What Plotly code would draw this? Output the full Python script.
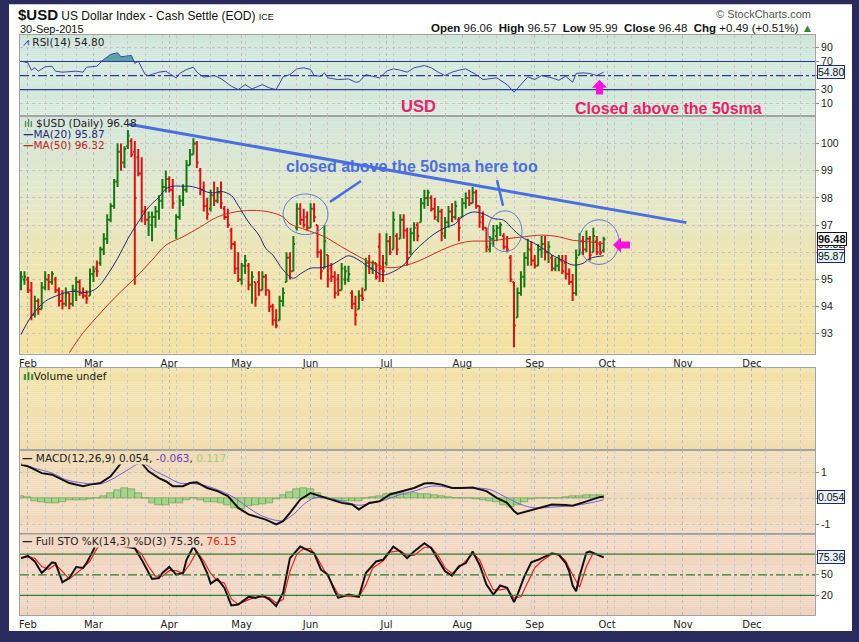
import plotly.graph_objects as go

# ------------------------------------------------------------------ DATA
# trading-day index: 0 = 2-Feb-2015 ... 167 = 30-Sep-2015
day_index = list(range(-2, 168))
opens = [94.8, 95.0, 95.0, 94.6, 93.7, 94.2, 93.9, 94.7, 95.0, 94.9, 95.0, 94.6, 94.2, 94.1, 94.5, 94.1, 94.6, 94.9, 94.5, 94.4,
         94.4, 95.2, 95.4, 95.6, 96.1, 96.5, 97.2, 97.7, 98.6, 99.7, 99.3, 99.9, 100.1, 99.7, 99.5, 98.9, 97.5, 97.2, 97.0, 97.3,
         97.5, 97.9, 98.4, 98.7, 98.3, 96.8, 97.3, 97.9, 98.3, 99.2, 99.6, 100.0, 99.0, 98.3, 97.7, 97.6, 98.1, 97.9, 98.2, 97.6,
         97.3, 96.8, 96.3, 95.4, 95.0, 95.5, 95.5, 94.8, 94.9, 94.9, 94.6, 95.1, 94.6, 94.0, 93.5, 93.5, 94.2, 94.9, 95.8, 95.3,
         96.9, 97.6, 97.2, 97.3, 96.9, 97.6, 97.0, 96.0, 95.4, 95.9, 95.4, 95.1, 95.0, 94.6, 95.0, 95.0, 94.5, 94.1, 93.9, 94.4,
         94.6, 95.6, 95.4, 95.6, 96.2, 95.4, 95.6, 96.4, 96.1, 96.6, 96.5, 97.2, 96.8, 96.0, 96.7, 97.0, 97.1, 97.8, 98.0, 98.0,
         97.6, 97.2, 97.5, 96.6, 97.1, 97.5, 97.3, 97.2, 97.3, 97.8, 98.0, 97.8, 98.2, 97.7, 97.3, 96.9, 96.1, 96.5, 96.6, 96.9,
         96.6, 96.2, 95.8, 94.9, 93.6, 94.5, 95.1, 95.8, 96.1, 95.7, 95.5, 96.1, 96.3, 96.0, 95.8, 95.4, 95.5, 95.7, 95.6, 95.2,
         94.9, 94.5, 95.9, 96.4, 96.1, 96.5, 96.0, 96.4, 96.3, 96.06]
highs = [95.3, 95.3, 95.1, 94.9, 94.4, 94.3, 94.9, 95.3, 95.2, 95.3, 95.1, 94.7, 94.6, 94.7, 94.5, 94.8, 95.1, 95.0, 94.7, 94.6,
         95.4, 95.5, 95.7, 96.2, 96.7, 97.4, 97.8, 98.7, 100.0, 100.0, 99.9, 100.5, 100.2, 100.1, 99.8, 99.5, 97.7, 97.5, 97.5, 97.7,
         98.1, 98.7, 99.0, 98.8, 98.7, 97.4, 98.1, 98.5, 99.4, 99.8, 100.2, 100.1, 99.1, 98.6, 98.0, 98.3, 98.6, 98.4, 98.6, 97.7,
         97.6, 96.9, 96.4, 96.0, 95.6, 95.9, 95.6, 95.3, 94.9, 95.3, 95.3, 95.2, 94.6, 94.1, 93.9, 94.4, 94.7, 96.0, 96.0, 96.6,
         97.8, 97.8, 97.6, 97.5, 97.8, 97.8, 97.0, 96.1, 97.0, 95.9, 95.6, 95.3, 95.2, 95.6, 95.5, 95.5, 94.6, 94.4, 94.6, 94.7,
         95.8, 95.9, 95.7, 95.6, 96.7, 95.9, 96.7, 96.6, 97.5, 96.7, 97.4, 97.4, 96.9, 96.9, 97.1, 97.1, 98.0, 98.3, 98.3, 98.1,
         98.0, 97.7, 97.6, 97.3, 97.7, 97.8, 97.9, 97.3, 98.0, 98.2, 98.3, 98.4, 98.3, 97.7, 97.5, 96.9, 96.6, 97.0, 97.0, 97.1,
         96.7, 96.6, 95.9, 94.9, 94.7, 95.3, 96.0, 96.5, 96.4, 95.9, 96.3, 96.6, 96.6, 96.4, 95.9, 95.8, 95.9, 95.9, 95.9, 95.4,
         95.2, 96.1, 96.7, 96.6, 96.8, 96.6, 96.9, 96.6, 96.4, 96.57]
lows = [94.6, 94.8, 94.5, 93.5, 93.6, 93.7, 93.9, 94.6, 94.6, 94.8, 94.5, 94.0, 93.9, 94.0, 93.9, 94.0, 94.2, 94.4, 94.3, 94.1,
        94.4, 94.9, 95.1, 95.5, 95.9, 96.3, 97.1, 97.6, 98.4, 99.0, 99.1, 99.8, 99.5, 94.8, 98.8, 97.1, 97.0, 96.6, 96.4, 96.9,
        97.2, 97.6, 98.2, 98.2, 97.6, 96.5, 97.2, 97.7, 98.2, 99.2, 99.6, 99.1, 98.1, 97.5, 97.2, 97.5, 97.7, 97.8, 97.6, 97.2,
        96.9, 96.1, 95.2, 94.9, 94.8, 95.2, 94.6, 94.1, 94.0, 94.4, 94.6, 94.4, 93.8, 93.3, 93.2, 93.5, 94.0, 94.9, 95.0, 95.3,
        96.8, 97.0, 96.9, 96.8, 96.9, 97.1, 95.8, 95.0, 95.4, 94.7, 94.9, 94.3, 94.4, 94.6, 94.8, 94.9, 93.9, 93.3, 93.9, 94.2,
        94.6, 95.2, 95.2, 95.0, 94.9, 94.9, 95.5, 95.9, 96.1, 95.9, 96.5, 96.5, 95.5, 95.9, 96.4, 96.4, 97.1, 97.6, 97.7, 97.5,
        97.2, 97.1, 96.4, 96.5, 96.9, 97.1, 97.2, 96.4, 97.3, 97.6, 97.7, 97.8, 97.6, 96.9, 96.8, 96.0, 96.0, 96.2, 96.4, 96.6,
        96.1, 96.0, 94.9, 92.5, 93.6, 94.4, 94.7, 95.5, 95.5, 95.4, 95.5, 95.8, 95.7, 95.6, 95.3, 95.3, 95.3, 95.2, 95.0, 94.8,
        94.2, 94.4, 95.9, 95.9, 96.0, 95.7, 96.0, 95.9, 95.9, 95.99]
closes = [95.1, 95.1, 94.6, 93.7, 94.2, 93.9, 94.7, 95.0, 94.9, 95.2, 94.6, 94.2, 94.1, 94.5, 94.1, 94.6, 94.9, 94.5, 94.4, 94.3,
          95.2, 95.3, 95.3, 96.1, 96.5, 97.2, 97.7, 98.6, 99.7, 99.3, 99.8, 100.3, 99.6, 98.0, 98.9, 97.5, 97.2, 97.3, 97.3, 97.5,
          97.9, 98.4, 98.7, 98.3, 97.8, 97.3, 97.9, 98.3, 99.2, 99.6, 100.0, 99.3, 98.3, 97.7, 97.4, 98.1, 97.9, 98.2, 97.8, 97.3,
          97.0, 96.3, 95.4, 95.0, 95.5, 95.7, 94.8, 95.1, 94.3, 94.6, 95.1, 94.6, 94.0, 93.5, 93.3, 94.2, 94.5, 95.8, 95.3, 96.3,
          97.6, 97.2, 97.0, 96.9, 97.6, 97.3, 96.0, 95.3, 96.4, 95.0, 95.1, 94.5, 94.6, 95.4, 95.3, 95.2, 94.1, 93.7, 94.4, 94.3,
          95.6, 95.4, 95.6, 95.1, 95.4, 95.3, 96.4, 96.0, 97.2, 96.1, 97.2, 96.8, 95.8, 96.7, 96.9, 96.6, 97.8, 98.0, 98.2, 97.6,
          97.3, 97.5, 96.7, 97.1, 97.5, 97.3, 97.7, 96.9, 97.8, 98.0, 97.8, 98.2, 97.7, 97.1, 96.9, 96.2, 96.5, 96.8, 96.9, 97.0,
          96.2, 96.1, 95.0, 93.3, 94.5, 95.1, 95.8, 96.1, 95.7, 95.5, 96.1, 96.3, 96.0, 96.2, 95.4, 95.5, 95.7, 95.3, 95.2, 94.9,
          94.5, 95.8, 96.4, 96.1, 96.5, 95.9, 96.6, 96.0, 95.99, 96.48]

ma20_x = [-2, 1, 5, 9, 12, 14, 17, 20, 23, 26, 29, 32, 35, 38, 40, 42, 45, 47, 50, 52, 54, 56, 59, 61, 64, 67, 69, 71,
          74, 77, 79, 82, 85, 88, 91, 93, 96, 98, 101, 103, 106, 109, 112, 115, 118, 121, 124, 126, 129, 132, 135, 138,
          141, 144, 147, 150, 152, 155, 158, 161, 163, 167]
ma20_y = [92.97, 93.64, 94.19, 94.43, 94.55, 94.55, 94.52, 94.68, 95.16, 95.77, 96.5, 97.11, 97.66, 98.03, 98.33, 98.43,
          98.43, 98.43, 98.33, 98.21, 98.19, 98.24, 98.09, 97.72, 97.11, 96.63, 96.14, 95.9, 95.35, 95.04, 95.2, 95.41,
          95.43, 95.53, 95.75, 95.87, 95.71, 95.53, 95.29, 95.16, 95.29, 95.53, 96.02, 96.38, 96.69, 96.9, 97.05, 97.3,
          97.48, 97.42, 97.24, 97.18, 96.81, 96.5, 96.32, 96.08, 95.9, 95.71, 95.53, 95.59, 95.77, 95.87]
ma50_x = [12, 16, 21, 26, 31, 36, 40, 45, 50, 55, 60, 65, 70, 74, 76, 81, 86, 91, 96, 100, 105, 110, 115, 120, 125, 129,
          134, 139, 144, 149, 154, 158, 163, 167]
ma50_y = [92.3, 93.03, 93.76, 94.43, 95.04, 95.71, 96.26, 96.57, 96.93, 97.3, 97.48, 97.54, 97.48, 97.3, 97.05, 96.81,
          96.57, 96.2, 95.84, 95.59, 95.43, 95.53, 95.77, 96.08, 96.32, 96.41, 96.41, 96.5, 96.57, 96.63, 96.57, 96.44,
          96.38, 96.32]

rsi_x = [-2, 0, 1, 2, 3, 5, 7, 8, 10, 14, 16, 17, 20, 22, 24, 26, 27, 29, 30, 31, 32, 34, 35, 38, 40, 41, 43, 44, 46, 48,
         49, 51, 54, 56, 59, 61, 63, 65, 68, 70, 72, 74, 76, 78, 80, 82, 83, 85, 86, 87, 90, 93, 95, 96, 98, 99, 102, 104,
         106, 108, 110, 112, 115, 117, 119, 121, 123, 125, 127, 130, 132, 136, 139, 141, 143, 145, 147, 149, 152, 154, 156,
         158, 159, 161, 163, 165, 167]
rsi_y = [70.5, 68.1, 57.6, 61.0, 56.2, 62.4, 63.3, 56.2, 54.8, 56.2, 54.8, 61.9, 63.3, 72.9, 80.0, 82.4, 76.7, 77.6, 78.6,
         67.1, 70.5, 51.4, 50.0, 54.8, 56.2, 52.9, 46.7, 52.9, 58.6, 61.9, 54.8, 47.6, 50.0, 45.7, 34.8, 30.0, 37.1, 31.0,
         37.1, 32.4, 30.0, 48.1, 51.4, 59.5, 61.0, 58.6, 50.0, 49.0, 53.8, 46.7, 44.3, 45.2, 40.5, 41.0, 51.4, 50.0, 46.7,
         56.2, 59.5, 57.6, 54.8, 61.0, 64.3, 61.0, 54.8, 50.0, 54.8, 57.6, 59.5, 51.4, 44.3, 46.7, 37.1, 26.2, 37.1, 48.1,
         44.3, 50.0, 46.7, 43.3, 49.0, 40.5, 52.9, 53.8, 52.9, 50.0, 54.8]

macd_x = [-2, 0, 2, 4, 7, 10, 12, 16, 18, 21, 24, 27, 30, 33, 35, 38, 40, 42, 45, 47, 49, 52, 55, 58, 61, 64, 67, 69, 72,
          74, 76, 79, 82, 85, 88, 91, 94, 96, 99, 102, 105, 109, 112, 115, 117, 120, 123, 126, 129, 133, 136, 139, 141,
          142, 145, 148, 152, 156, 158, 162, 166, 167]
macd_y = [1.28, 1.22, 1.09, 0.96, 0.90, 0.71, 0.58, 0.46, 0.52, 0.58, 0.84, 1.34, 1.62, 1.34, 1.03, 0.77, 0.65, 0.46, 0.46,
          0.58, 0.61, 0.39, 0.27, 0.08, -0.37, -0.62, -0.75, -0.82, -1.0, -0.88, -0.56, -0.05, 0.20, 0.08, -0.05, -0.18,
          -0.24, -0.43, -0.18, -0.12, 0.14, 0.27, 0.39, 0.56, 0.58, 0.52, 0.39, 0.39, 0.41, 0.27, 0.01, -0.18, -0.49,
          -0.60, -0.49, -0.37, -0.24, -0.26, -0.29, -0.12, 0.05, 0.054]
signal_x = [-2, 2, 7, 11, 16, 21, 25, 29, 33, 37, 40, 44, 48, 52, 56, 60, 64, 67, 71, 74, 77, 80, 83, 86, 89, 93, 96, 100,
            104, 108, 112, 117, 123, 129, 134, 139, 143, 147, 153, 158, 163, 167]
signal_y = [1.34, 1.15, 0.96, 0.71, 0.58, 0.55, 0.77, 1.09, 1.34, 1.03, 0.84, 0.58, 0.56, 0.46, 0.27, 0.01, -0.37, -0.62,
            -0.82, -0.86, -0.62, -0.24, 0.01, 0.01, -0.05, -0.18, -0.27, -0.18, -0.05, 0.14, 0.27, 0.46, 0.41, 0.39, 0.33,
            0.01, -0.24, -0.37, -0.33, -0.29, -0.18, -0.063]
hist_x = list(range(-2, 168, 2))
hist_y = [0.09, 0.05, -0.12, -0.15, -0.18, -0.17, -0.15, -0.09, -0.08, -0.07, -0.03, 0.02, 0.08, 0.18, 0.32, 0.39, 0.33,
          0.2, 0.02, -0.2, -0.27, -0.25, -0.2, -0.18, -0.06, 0.02, -0.08, -0.14, -0.15, -0.2, -0.25, -0.38, -0.42, -0.3,
          -0.27, -0.22, -0.18, -0.05, 0.12, 0.22, 0.33, 0.39, 0.35, 0.2, 0.04, -0.03, -0.1, -0.11, -0.11, -0.1, 0.0, 0.03,
          0.09, 0.15, 0.18, 0.18, 0.17, 0.18, 0.17, 0.15, 0.1, 0.08, 0.03, 0.0, 0.02, 0.0, -0.02, -0.08, -0.12, -0.14,
          -0.25, -0.33, -0.25, -0.15, -0.05, 0.0, 0.02, 0.0, 0.01, 0.03, 0.06, 0.09, 0.1, 0.12, 0.117]

stok_x = [-2, 0, 2, 4, 5, 7, 8, 10, 12, 14, 16, 17, 19, 20, 22, 25, 27, 29, 31, 33, 35, 36, 38, 39, 41, 43, 45, 46, 48, 50,
          52, 53, 55, 57, 59, 61, 64, 66, 68, 70, 72, 74, 76, 78, 79, 81, 83, 85, 87, 89, 90, 93, 96, 98, 101, 103, 106,
          108, 110, 112, 115, 117, 119, 121, 123, 125, 127, 129, 131, 133, 135, 137, 139, 141, 142, 144, 146, 148, 152,
          154, 156, 157, 158, 159, 160, 162, 163, 165, 167]
stok_y = [74.2, 77.6, 69.4, 52.6, 57.4, 68.0, 67.0, 39.1, 45.4, 61.3, 60.0, 67.0, 86.0, 98.0, 100.0, 97.0, 92.0, 90.0,
          88.7, 71.8, 52.6, 44.0, 45.4, 52.6, 61.3, 50.2, 52.6, 71.8, 91.0, 74.2, 52.6, 37.2, 44.0, 31.0, 5.5, 6.9, 18.0,
          16.5, 20.0, 14.4, 4.5, 23.8, 74.2, 85.3, 91.0, 86.3, 81.4, 57.4, 50.2, 26.2, 16.5, 21.3, 18.0, 52.6, 69.4, 71.8,
          91.0, 83.8, 74.2, 83.8, 95.9, 88.7, 71.8, 55.0, 48.8, 62.2, 67.0, 83.8, 64.6, 35.8, 21.3, 34.4, 31.0, 10.3, 21.3,
          47.8, 68.0, 71.8, 81.4, 79.0, 67.0, 55.0, 34.4, 26.2, 47.8, 82.4, 83.8, 79.0, 75.36]
stod_x = [-2, 0, 2, 4, 6, 8, 10, 12, 14, 16, 18, 20, 22, 27, 29, 31, 33, 35, 37, 39, 41, 43, 45, 47, 49, 51, 53, 55, 57,
          59, 61, 64, 66, 68, 70, 72, 74, 76, 78, 80, 82, 84, 86, 88, 90, 92, 96, 98, 100, 103, 105, 108, 110, 112, 115,
          117, 119, 121, 123, 125, 127, 129, 131, 133, 135, 137, 139, 141, 143, 145, 147, 149, 152, 154, 156, 158, 160,
          162, 164, 166, 167]
stod_y = [74, 76, 74, 62, 58, 65, 55, 44, 52, 60, 70, 88, 98, 94, 91, 89, 80, 62, 48, 48, 56, 56, 52, 66, 84, 70, 52, 41,
          38, 15, 7, 14, 17, 18, 17, 9, 14, 55, 80, 88, 88, 74, 56, 40, 22, 19, 18, 35, 60, 70, 83, 85, 78, 78, 90, 90,
          78, 60, 52, 60, 70, 80, 72, 48, 28, 28, 30, 16, 18, 38, 60, 70, 80, 80, 70, 50, 32, 62, 82, 77, 76.15]

month_ticks = [0, 19, 41, 62, 82, 104, 126, 147, 168, 190, 210]
month_labels = ["Feb", "Mar", "Apr", "May", "Jun", "Jul", "Aug", "Sep", "Oct", "Nov", "Dec"]
week_ticks = [5, 10, 14, 24, 29, 34, 39, 43, 48, 53, 58, 63, 68, 73, 78, 87, 92, 97, 102, 106, 111, 116, 121, 131, 136,
              141, 146, 151, 155, 160, 165, 170, 175, 180, 185, 195, 200, 205, 214, 219, 224]
price_ticks = [93, 94, 95, 96, 97, 98, 99, 100]
price_ticktext = ["93", "94", "95", "", "97", "98", "99", "100"]   # 96 is covered by the value tags
rsi_ticks = [10, 30, 50, 70, 90]
rsi_ticktext = ["10", "30", "", "70", "90"]
macd_ticks = [-1, 0, 1]
macd_ticktext = ["-1", "", "1"]
sto_ticks = [20, 50, 80]
sto_ticktext = ["20", "50", ""]

trend_x = [29.3, 191.0]
trend_y = [100.71, 97.09]

last_close, ma20_last, ma50_last = 96.48, 95.87, 96.32
rsi_last, macd_last, signal_last, hist_last = 54.80, 0.054, -0.063, 0.117
stok_last, stod_last = 75.36, 76.15

# ------------------------------------------------------------------ GEOMETRY / STYLE
W, H = 859, 642
L, R, T, B = 20, 44, 35, 23
PW, PH = W - L - R, H - T - B


def px(x):
    return (x - L) / PW


def py(y):
    return (H - B - y) / PH


panels = [  # (name, top px, bottom px, range)
    ("rsi", 35, 117, [-8.2, 107.7]),
    ("price", 117, 356, [92.26, 101.0]),
    ("vol", 370, 453, [0, 1]),
    ("macd", 453, 537, [-1.354, 1.84]),
    ("sto", 537, 619, [-8.4, 109.9]),
]
gradients = {
    "rsi": ["#cfe5dc", "#d7eadb"],
    "price": ["#d3e6dc", "#e3e8cb", "#f0e5b0", "#f4e2a3"],
    "vol": ["#f2e3a8", "#f1ddb2"],
    "macd": ["#f0dcb7", "#f1d8be"],
    "sto": ["#f2d8c3", "#efd4c0"],
}

FONT = "DejaVu Sans, Verdana, sans-serif"
ARIAL = "Liberation Sans, Arial, sans-serif"
NAVY = "#1f2a7a"

fig = go.Figure()


def hx(c):
    c = c.lstrip("#")
    return [int(c[i:i + 2], 16) for i in (0, 2, 4)]


def mix(stops, t):
    n = len(stops) - 1
    k = min(int(t * n), n - 1)
    f = t * n - k
    a, b = hx(stops[k]), hx(stops[k + 1])
    return "rgb(%d,%d,%d)" % tuple(round(a[i] + (b[i] - a[i]) * f) for i in range(3))


shapes = []
# white inner card over the dark frame (paper background)
shapes.append(dict(type="rect", xref="paper", yref="paper", x0=px(9), x1=px(852), y0=py(635), y1=py(4),
                   fillcolor="white", line_width=0, layer="below"))
for name, top, bot, rng in panels:
    n = 40
    for k in range(n):
        y0 = top + (bot - top) * k / n
        y1 = top + (bot - top) * (k + 1) / n
        shapes.append(dict(type="rect", xref="paper", yref="paper", x0=0, x1=1, y0=py(y1), y1=py(y0),
                           fillcolor=mix(gradients[name], (k + 0.5) / n), line_width=0, layer="below"))

# axes
for idx, (name, top, bot, rng) in enumerate(panels, start=1):
    sfx = "" if idx == 1 else str(idx)
    show_x = name in ("price", "sto")
    fig.layout["xaxis" + sfx] = dict(
        domain=[0, 1], anchor="y" + sfx, range=[-2.3, 228.3], tickmode="array", tickvals=month_ticks,
        ticktext=month_labels, showticklabels=show_x, ticks="", tickfont=dict(family=FONT, size=10, color="#222"),
        showgrid=True, gridcolor="#b9b9b9", griddash="dot", gridwidth=1,
        minor=dict(tickvals=week_ticks, showgrid=True, gridcolor="#c9c9c9", griddash="dot", gridwidth=1),
        showline=True, linecolor="#a3a3a3", linewidth=1, mirror=True, zeroline=False, fixedrange=True,
        **({} if idx == 1 else {"matches": "x"}))
    yax = dict(domain=[py(bot), py(top)], anchor="x" + sfx, range=rng, side="right", zeroline=False,
               showline=True, linecolor="#a3a3a3", linewidth=1, mirror=True, fixedrange=True,
               tickfont=dict(family=ARIAL, size=10.5, color="#222"), ticks="outside", ticklen=3, tickcolor="#888",
               showgrid=True, gridcolor="#c4c4c4", griddash="dot")
    if name == "rsi":
        yax.update(tickvals=rsi_ticks, ticktext=rsi_ticktext)
    elif name == "price":
        yax.update(tickvals=price_ticks, ticktext=price_ticktext)
    elif name == "vol":
        yax.update(tickvals=[], showgrid=False)
    elif name == "macd":
        yax.update(tickvals=macd_ticks, ticktext=macd_ticktext)
    else:
        yax.update(tickvals=sto_ticks, ticktext=sto_ticktext, showgrid=False)
    fig.layout["yaxis" + sfx] = yax

# ------------------------------------------------------------------ TRACES
# RSI
fig.add_trace(go.Scatter(x=rsi_x, y=[70] * len(rsi_x), mode="lines", line=dict(width=0), hoverinfo="skip",
                         xaxis="x", yaxis="y", showlegend=False))
fig.add_trace(go.Scatter(x=rsi_x, y=[max(v, 70) for v in rsi_y], mode="lines", line=dict(width=0),
                         fill="tonexty", fillcolor="#5aa3a6", xaxis="x", yaxis="y", showlegend=False))
fig.add_trace(go.Scatter(x=rsi_x, y=rsi_y, mode="lines", line=dict(color="#3a47a8", width=1),
                         xaxis="x", yaxis="y", showlegend=False))
# Price bars + MAs
fig.add_trace(go.Ohlc(x=day_index, open=opens, high=highs, low=lows, close=closes, tickwidth=0.5,
                      increasing=dict(line=dict(color="#137a13", width=2)),
                      decreasing=dict(line=dict(color="#e01010", width=2)),
                      xaxis="x2", yaxis="y2", showlegend=False))
fig.add_trace(go.Scatter(x=ma50_x, y=ma50_y, mode="lines", line=dict(color="#d42a1e", width=1, shape="spline"),
                         xaxis="x2", yaxis="y2", showlegend=False))
fig.add_trace(go.Scatter(x=ma20_x, y=ma20_y, mode="lines", line=dict(color=NAVY, width=1, shape="spline"),
                         xaxis="x2", yaxis="y2", showlegend=False))
fig.add_trace(go.Scatter(x=trend_x, y=trend_y, mode="lines", line=dict(color="#4a6fe0", width=3),
                         xaxis="x2", yaxis="y2", showlegend=False))
# Volume (empty panel)
fig.add_trace(go.Scatter(x=[0], y=[0.5], mode="markers", marker=dict(opacity=0), xaxis="x3", yaxis="y3",
                         showlegend=False, hoverinfo="skip"))
# MACD
fig.add_trace(go.Bar(x=hist_x, y=hist_y, width=2, marker=dict(color="#a6d48c", line=dict(color="#5c9b48", width=0.6)),
                     xaxis="x4", yaxis="y4", showlegend=False))
fig.add_trace(go.Scatter(x=signal_x, y=signal_y, mode="lines", line=dict(color="#7b5ce0", width=1, shape="spline"),
                         xaxis="x4", yaxis="y4", showlegend=False))
fig.add_trace(go.Scatter(x=macd_x, y=macd_y, mode="lines", line=dict(color="#111", width=2),
                         xaxis="x4", yaxis="y4", showlegend=False))
# STO
fig.add_trace(go.Scatter(x=stod_x, y=stod_y, mode="lines", line=dict(color="#f02020", width=1.2),
                         xaxis="x5", yaxis="y5", showlegend=False))
fig.add_trace(go.Scatter(x=stok_x, y=stok_y, mode="lines", line=dict(color="#111", width=2),
                         xaxis="x5", yaxis="y5", showlegend=False))

# reference lines
for yref, xref, val, col, dash in [("y", "x", 70, "#2b3a9c", "solid"), ("y", "x", 30, "#2b3a9c", "solid"),
                                   ("y", "x", 50, "#2b3a9c", "dashdot"),
                                   ("y5", "x5", 80, "#2e7d32", "solid"), ("y5", "x5", 20, "#2e7d32", "solid"),
                                   ("y5", "x5", 50, "#2e7d32", "dashdot")]:
    shapes.append(dict(type="line", xref=xref + " domain", yref=yref, x0=0, x1=1, y0=val, y1=val,
                       line=dict(color=col, width=1.2, dash=dash)))

# hand-drawn annotations (circles, pointer lines, arrows)
circles = [(283, 195, 328, 236), (488, 212, 522, 253), (579, 221, 619, 266)]
for x0, y0, x1, y1 in circles:
    shapes.append(dict(type="circle", xref="paper", yref="paper", x0=px(x0), x1=px(x1), y0=py(y1), y1=py(y0),
                       line=dict(color="#5b7fd0", width=1)))
for (x0, y0), (x1, y1) in [((330, 203), (361, 182)), ((497, 181), (503, 207))]:
    shapes.append(dict(type="line", xref="paper", yref="paper", x0=px(x0), y0=py(y0), x1=px(x1), y1=py(y1),
                       line=dict(color="#4a6fe0", width=2.5)))


def poly(pts):
    return "M " + " L ".join("%.5f,%.5f" % (px(a), py(b)) for a, b in pts) + " Z"


up_arrow = [(599.5, 80), (607, 88), (603, 88), (603, 95), (596, 95), (596, 88), (592, 88)]
left_arrow = [(613, 246.5), (621, 239), (621, 243), (630, 243), (630, 250), (621, 250), (621, 254)]
for pts in (up_arrow, left_arrow):
    shapes.append(dict(type="path", xref="paper", yref="paper", path=poly(pts), fillcolor="#ff10e0",
                       line=dict(width=0)))

fig.update_layout(shapes=shapes)

# ------------------------------------------------------------------ TEXT
ann = []


def text(x, y, s, size=10, color="#222", family=FONT, anchor="left", bg=None, **kw):
    d = dict(x=px(x), y=py(y), xref="paper", yref="paper", text=s, showarrow=False, xanchor=anchor,
             yanchor="middle", font=dict(family=family, size=size, color=color))
    if bg:
        d["bgcolor"] = bg
    d.update(kw)
    ann.append(d)


text(16, 14, "<b><span style='font-size:15px'>$USD</span></b> US Dollar Index - Cash Settle (EOD) "
             "<span style='font-size:9px'>ICE</span>", 12, "#111", ARIAL)
text(18, 29, "30-Sep-2015", 11, "#111", ARIAL)
text(813, 14, "© StockCharts.com", 11, "#555", ARIAL, anchor="right")
text(815, 28, "<b>Open</b> 96.06  <b>High</b> 96.57  <b>Low</b> 95.99  <b>Close</b> 96.48  <b>Chg</b> +0.49 (+0.51%) "
              "<span style='color:#2e8b2e'>▲</span>", 11.5, "#111", ARIAL, anchor="right")

text(21, 42, "<span style='color:#3a47a8'>⩘</span> RSI(14) %.2f" % rsi_last, 10.5, "#222")
text(22, 124, "<span style='color:#137a13'>ılı</span> $USD (Daily) %.2f" % last_close, 10.5, "#222")
text(21, 135, "<b>—</b>MA(20) %.2f" % ma20_last, 10.5, NAVY)
text(21, 146, "<b>—</b>MA(50) %.2f" % ma50_last, 10.5, "#c0281e")
text(21, 378, "<span style='color:#2e8b2e'><b>ılı</b></span>Volume undef", 10.5, "#222")
text(21, 461, "<b>—</b> MACD(12,26,9) %.3f, <span style='color:#6a3fd0'>%.3f</span>, "
              "<span style='color:#9ccf80'>%.3f</span>" % (macd_last, signal_last, hist_last),
     10.5, "#222", bg="#f0dcb7", borderpad=0)
text(21, 544, "<b>—</b> Full STO %%K(14,3) %%D(3) %.2f, <span style='color:#e02020'>%.2f</span>"
     % (stok_last, stod_last), 10.5, "#222", bg="#f2d8c3", borderpad=0)

# chart comments
text(418, 106, "<b>USD</b>", 16.5, "#e8226a", ARIAL, anchor="center")
text(668, 109, "<b>Closed above the 50sma</b>", 16, "#e8226a", ARIAL, anchor="center")
text(412, 167, "<b>closed above the 50sma here too</b>", 16, "#4a6fe0", ARIAL, anchor="center")


# value tags on the right axis
def tag(yref, val, s, border, bg="#e8f2fb", bold=False):
    ann.append(dict(x=px(817), y=val, xref="paper", yref=yref, text=("<b>%s</b>" % s) if bold else s,
                    showarrow=False, xanchor="left", yanchor="middle", bgcolor=bg, bordercolor=border,
                    borderwidth=1, borderpad=0, font=dict(family=ARIAL, size=11 if bold else 10.5, color="#111")))


tag("y2", ma50_last, "%.2f" % ma50_last, "#d42a1e", "#ffffff")
tag("y2", ma20_last, "%.2f" % ma20_last, NAVY)
tag("y2", last_close, "%.2f" % last_close, "#111", "#ffffff", bold=True)
tag("y", rsi_last, "%.2f" % rsi_last, NAVY)
tag("y4", macd_last, "%.3f" % macd_last, NAVY)
tag("y5", stok_last, "%.2f" % stok_last, NAVY)

fig.update_layout(
    annotations=ann,
    width=W, height=H, margin=dict(l=L, r=R, t=T, b=B, pad=0),
    paper_bgcolor="#2b2a5c", plot_bgcolor="rgba(0,0,0,0)",
    showlegend=False, bargap=0, hovermode=False,
    font=dict(family=FONT, size=10, color="#222"),
)
fig.update_xaxes(rangeslider_visible=False)

fig.write_html("out.html", config={"displayModeBar": False},
               post_script="document.body.style.margin='0';document.body.style.overflow='hidden';")
